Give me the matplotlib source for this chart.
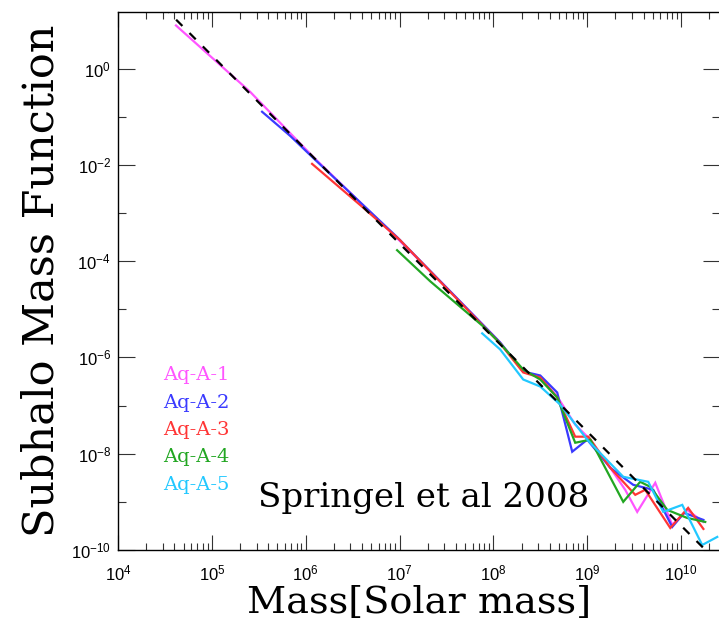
import matplotlib
matplotlib.use('Agg')
import matplotlib.pyplot as plt
from matplotlib.ticker import FixedLocator, LogFormatterSciNotation, NullFormatter, LogLocator

plt.rcParams['font.family'] = 'Liberation Sans'
plt.rcParams['mathtext.fontset'] = 'custom'
plt.rcParams['mathtext.rm'] = 'Liberation Sans'
plt.rcParams['mathtext.default'] = 'regular'

# series: mass [Msun], subhalo mass function
names = ['Aq-A-1', 'Aq-A-2', 'Aq-A-3', 'Aq-A-4', 'Aq-A-5']
colors = ['#ff55ff', '#3a3aff', '#ff3535', '#22a622', '#22c8ff']

mass_a1 = [4.15e4, 2.55e5, 1.20e6, 9.42e6, 3.46e7, 1.18e8, 2.08e8, 3.16e8, 4.79e8,
           7.45e8, 1.08e9, 1.76e9, 2.54e9, 3.41e9, 5.31e9, 8.05e9, 1.16e10, 1.73e10]
smf_a1 = [7.87, 0.332, 0.0147, 3.01e-4, 2.37e-5, 2.05e-6, 5.11e-7, 3.83e-7, 1.54e-7,
          4.02e-8, 1.96e-8, 5.11e-9, 1.78e-9, 6.19e-10, 2.49e-9, 3.32e-10, 6.81e-10, 3.83e-10]

mass_a2 = [3.43e5, 6.82e5, 1.20e6, 9.42e6, 3.46e7, 1.18e8, 2.08e8, 3.16e8, 4.79e8,
           6.92e8, 1.00e9, 1.76e9, 3.09e9, 5.06e9, 8.05e9, 1.08e10, 1.73e10]
smf_a2 = [0.127, 0.0402, 0.0140, 3.16e-4, 2.37e-5, 2.05e-6, 5.11e-7, 4.22e-7, 1.87e-7,
          1.10e-8, 1.96e-8, 5.11e-9, 2.26e-9, 1.78e-9, 3.01e-10, 5.90e-10, 4.22e-10]

mass_a3 = [1.17e6, 4.09e6, 1.01e7, 3.46e7, 1.18e8, 2.08e8, 3.16e8, 4.79e8, 7.45e8,
           1.03e9, 1.76e9, 3.25e9, 4.15e9, 7.67e9, 1.19e10, 1.73e10]
smf_a3 = [0.0105, 1.30e-3, 2.75e-4, 2.30e-5, 1.96e-6, 4.87e-7, 3.83e-7, 1.47e-7, 2.26e-8,
          2.26e-8, 5.11e-9, 1.40e-9, 1.78e-9, 2.87e-10, 7.50e-10, 2.74e-10]

mass_a4 = [9.42e6, 2.12e7, 7.78e7, 1.18e8, 2.08e8, 3.16e8, 4.79e8, 7.45e8, 1.08e9,
           2.42e9, 3.67e9, 4.70e9, 7.13e9, 1.16e10, 1.81e10]
smf_a4 = [1.69e-4, 3.83e-5, 4.43e-6, 1.96e-6, 5.62e-7, 3.48e-7, 1.47e-7, 1.69e-8, 1.96e-8,
          1.0e-9, 2.61e-9, 2.05e-9, 6.81e-10, 4.64e-10, 3.83e-10]

mass_a5 = [7.60e7, 1.18e8, 2.08e8, 3.16e8, 5.15e8, 1.00e9, 2.42e9, 4.47e9, 6.46e9,
           1.03e10, 1.68e10, 2.43e10]
smf_a5 = [3.16e-6, 1.47e-6, 3.48e-7, 2.49e-7, 1.05e-7, 1.96e-8, 3.32e-9, 2.61e-9, 6.19e-10,
          8.66e-10, 1.27e-10, 1.87e-10]

# power-law fit (dashed), end points
fit_mass = [3.0e4, 2.2e10]
fit_smf = [19.7, 6.9e-11]

series = [(mass_a1, smf_a1), (mass_a2, smf_a2), (mass_a3, smf_a3),
          (mass_a4, smf_a4), (mass_a5, smf_a5)]

fig = plt.figure(figsize=(7.19, 6.29), dpi=100)
ax = fig.add_axes([118 / 719, 79 / 629, 602 / 719, 538 / 629])

for (m, f), c in zip(series, colors):
    ax.plot(m, f, color=c, lw=1.6, solid_joinstyle='miter')
ax.plot(fit_mass, fit_smf, color='black', lw=1.6, dashes=(4.0, 4.5), zorder=5)

ax.set_xscale('log')
ax.set_yscale('log')
ax.set_xlim(1e4, 2.6e10)
ax.set_ylim(1e-10, 15)

ax.xaxis.set_major_locator(LogLocator(base=10, numticks=20))
ax.xaxis.set_minor_locator(LogLocator(base=10, subs=range(2, 10), numticks=20))
ax.xaxis.set_minor_formatter(NullFormatter())
ax.yaxis.set_major_locator(FixedLocator([10.0 ** -k for k in range(0, 11, 2)]))
ax.yaxis.set_major_formatter(LogFormatterSciNotation())
ax.yaxis.set_minor_locator(FixedLocator([10.0 ** -k for k in range(1, 10, 2)]))
ax.yaxis.set_minor_formatter(NullFormatter())

ax.tick_params(which='both', direction='in', top=True, right=True, width=0.8, color='#333333')
ax.tick_params(axis='x', which='major', length=11, labelsize=12, pad=10)
ax.tick_params(axis='x', which='minor', length=5)
ax.tick_params(axis='y', which='major', length=12, labelsize=12, pad=5)
ax.tick_params(axis='y', which='minor', length=6)
for sp in ax.spines.values():
    sp.set_linewidth(1.0)

ax.set_xlabel('Mass[Solar mass]', family='DejaVu Serif', fontsize=27.5, labelpad=1)
ax.set_ylabel('Subhalo Mass Function', family='DejaVu Serif', fontsize=31, labelpad=6)

# legend as coloured labels
for i, (n, c) in enumerate(zip(names, colors)):
    y = 375 + i * 27.5
    ax.text((163 - 118) / 602, (550 - y) / 538, n, color=c, family='DejaVu Serif',
            fontsize=14, va='center', ha='left', transform=ax.transAxes)

ax.text((258 - 118) / 602, (550 - 498) / 538, 'Springel et al 2008', family='DejaVu Serif',
        fontsize=24.5, va='center', ha='left', transform=ax.transAxes)

fig.savefig('out.png', dpi=100)
